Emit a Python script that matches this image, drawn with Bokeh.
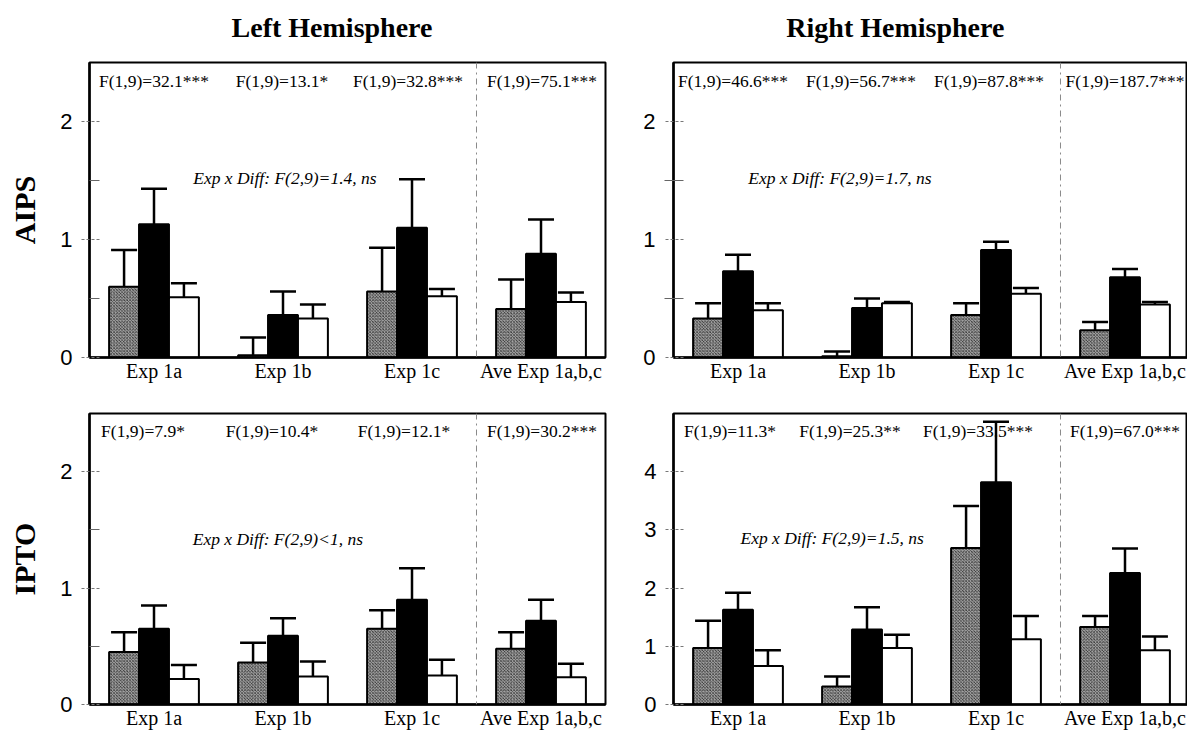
import numpy as np
from bokeh.plotting import figure
from bokeh.models import (ColumnDataSource, Range1d, FixedTicker, Whisker, TeeHead,
                          Span, Label)
from bokeh.layouts import column, row
from bokeh.embed import file_html
from bokeh.resources import INLINE
from bokeh.core.properties import value

# ---------------- data ----------------
categories = ["Exp 1a", "Exp 1b", "Exp 1c", "Ave Exp 1a,b,c"]
hemispheres = ["Left Hemisphere", "Right Hemisphere"]
regions = ["AIPS", "IPTO"]

# AIPS, left hemisphere
AIPS_L_GRAY = [0.60, 0.02, 0.56, 0.41]
AIPS_L_GRAY_SE = [0.31, 0.15, 0.37, 0.25]
AIPS_L_BLACK = [1.13, 0.36, 1.10, 0.88]
AIPS_L_BLACK_SE = [0.30, 0.20, 0.41, 0.29]
AIPS_L_WHITE = [0.51, 0.33, 0.52, 0.47]
AIPS_L_WHITE_SE = [0.12, 0.12, 0.06, 0.08]

# AIPS, right hemisphere
AIPS_R_GRAY = [0.33, 0.01, 0.36, 0.23]
AIPS_R_GRAY_SE = [0.13, 0.04, 0.10, 0.07]
AIPS_R_BLACK = [0.73, 0.42, 0.91, 0.68]
AIPS_R_BLACK_SE = [0.14, 0.08, 0.07, 0.07]
AIPS_R_WHITE = [0.40, 0.46, 0.54, 0.45]
AIPS_R_WHITE_SE = [0.06, 0.01, 0.05, 0.02]

# IPTO, left hemisphere
IPTO_L_GRAY = [0.45, 0.36, 0.65, 0.48]
IPTO_L_GRAY_SE = [0.17, 0.17, 0.16, 0.14]
IPTO_L_BLACK = [0.65, 0.59, 0.90, 0.72]
IPTO_L_BLACK_SE = [0.20, 0.15, 0.27, 0.18]
IPTO_L_WHITE = [0.22, 0.24, 0.25, 0.235]
IPTO_L_WHITE_SE = [0.12, 0.13, 0.135, 0.115]

# IPTO, right hemisphere
IPTO_R_GRAY = [0.97, 0.31, 2.69, 1.33]
IPTO_R_GRAY_SE = [0.47, 0.17, 0.72, 0.19]
IPTO_R_BLACK = [1.63, 1.29, 3.82, 2.26]
IPTO_R_BLACK_SE = [0.29, 0.38, 1.04, 0.42]
IPTO_R_WHITE = [0.66, 0.97, 1.12, 0.93]
IPTO_R_WHITE_SE = [0.27, 0.23, 0.40, 0.24]

AIPS_L_F = ["F(1,9)=32.1***", "F(1,9)=13.1*", "F(1,9)=32.8***", "F(1,9)=75.1***"]
AIPS_R_F = ["F(1,9)=46.6***", "F(1,9)=56.7***", "F(1,9)=87.8***", "F(1,9)=187.7***"]
IPTO_L_F = ["F(1,9)=7.9*", "F(1,9)=10.4*", "F(1,9)=12.1*", "F(1,9)=30.2***"]
IPTO_R_F = ["F(1,9)=11.3*", "F(1,9)=25.3**", "F(1,9)=33.5***", "F(1,9)=67.0***"]

AIPS_L_INT = "Exp x Diff: F(2,9)=1.4, ns"
AIPS_R_INT = "Exp x Diff: F(2,9)=1.7, ns"
IPTO_L_INT = "Exp x Diff: F(2,9)<1, ns"
IPTO_R_INT = "Exp x Diff: F(2,9)=1.5, ns"

# ---------------- styling / layout ----------------
SERIF = "Liberation Serif"
SANS = "Liberation Sans"
BAR_W = 0.232
OFFSETS = [-BAR_W, 0.0, BAR_W]
STYLES = [
    dict(fill_color="#a4a4a4", hatch_pattern="x", hatch_color="#2a2a2a",
         hatch_scale=3.2, hatch_weight=0.8),
    dict(fill_color="black"),
    dict(fill_color="white"),
]

W_L, W_R = 615, 572
BORD_L = (89, 10)
BORD_R = (58, 0)
X_END_L = 3.5
X_END_R = 3.4845
H_HEAD = 45
H_TOP, H_BOT = 342, 344
TOP_BORD = (17, 30)   # (top, bottom) for upper panels
BOT_BORD = (26, 23)   # (top, bottom) for lower panels

# pixel nudges of the F-test labels (layout only)
NUDGE_TL = [0, -1, -4, 1]
NUDGE_TR = [-5, -6, -7, 0]
NUDGE_BL = [-11, -11, -8, 1]
NUDGE_BR = [-8, -17, -18, 0]


def header(text, tx, width, borders, xend):
    p = figure(width=width, height=H_HEAD, x_range=Range1d(-0.5, xend),
               y_range=Range1d(0, 1), output_backend="svg",
               toolbar_location=None, x_axis_type=None, y_axis_type=None,
               min_border_left=borders[0], min_border_right=borders[1],
               min_border_top=0, min_border_bottom=0)
    p.grid.visible = False
    p.outline_line_color = None
    src = ColumnDataSource(dict(x=[tx], y=[0.4], text=[text]))
    p.text(x="x", y="y", text="text", source=src, text_font=value(SERIF),
           text_font_size="28px", text_font_style="bold", text_align="center",
           text_baseline="middle", text_color="black")
    return p


def panel(series, flabels, nudge, inter_text, inter_x, inter_y, ymax, yticks,
          yminor, width, height, borders, vb, ylabel=None, xend=3.5,
          minor_out=0):
    bl, br = borders
    bt, bb = vb
    p = figure(width=width, height=height, x_range=Range1d(-0.5, xend),
               y_range=Range1d(0, ymax), output_backend="svg",
               toolbar_location=None, min_border_left=bl, min_border_right=br,
               min_border_top=bt, min_border_bottom=bb)
    p.grid.visible = False
    p.outline_line_color = "black"
    p.outline_line_width = 2
    p.outline_line_alpha = 1
    p.background_fill_color = "white"
    p.border_fill_color = "white"

    idx = np.arange(len(categories))
    for k, (m, s) in enumerate(series):
        m = np.array(m, dtype=float)
        s = np.array(s, dtype=float)
        src = ColumnDataSource(dict(x=idx + OFFSETS[k], top=m, upper=m + s))
        p.vbar(x="x", top="top", width=BAR_W, source=src, line_color="black",
               line_width=2, **STYLES[k])
        w = Whisker(base="x", lower="top", upper="upper", source=src,
                    line_color="black", line_width=2.5, lower_head=None,
                    upper_head=TeeHead(size=26, line_width=2.5,
                                       line_color="black"))
        p.add_layout(w)

    p.add_layout(Span(location=2.5, dimension="height", line_color="#8a8a8a",
                      line_dash="dashdot", line_width=1))

    frame_h = height - bt - bb
    fsrc = ColumnDataSource(dict(x=idx, y=[ymax * (1 - 18.0 / frame_h)] * len(idx),
                                 text=flabels, dx=nudge))
    p.text(x="x", y="y", text="text", x_offset="dx", source=fsrc,
           text_font=value(SERIF), text_font_size="17.5px", text_align="center",
           text_baseline="middle", text_color="black")

    p.add_layout(Label(x=inter_x, y=inter_y, text=inter_text, text_font=SERIF,
                       text_font_size="17.5px", text_font_style="italic",
                       text_color="black", text_align="center",
                       text_baseline="middle"))

    xa = p.xaxis[0]
    xa.ticker = FixedTicker(ticks=list(idx))
    xa.major_label_overrides = {int(i): c for i, c in enumerate(categories)}
    xa.major_tick_line_color = None
    xa.minor_tick_line_color = None
    xa.major_tick_out = 0
    xa.major_tick_in = 0
    xa.axis_line_width = 2.5
    xa.major_label_standoff = 2
    xa.major_label_text_font = SERIF
    xa.major_label_text_font_size = "20px"
    xa.major_label_text_color = "black"

    ya = p.yaxis[0]
    ya.ticker = FixedTicker(ticks=yticks, minor_ticks=yminor)
    ya.axis_line_width = 2.5
    ya.major_tick_out = 8
    ya.major_tick_in = 10
    ya.major_tick_line_color = "#777777"
    ya.major_tick_line_dash = "3 2"
    ya.minor_tick_in = 10
    ya.minor_tick_out = minor_out
    ya.minor_tick_line_color = "#666666"
    ya.major_label_standoff = 9
    ya.major_label_text_font = SANS
    ya.major_label_text_font_size = "22px"
    ya.major_label_text_color = "black"
    if ylabel:
        ya.axis_label = ylabel
        ya.axis_label_text_font = SERIF
        ya.axis_label_text_font_style = "bold"
        ya.axis_label_text_font_size = "30px"
        ya.axis_label_standoff = 16
        ya.axis_label_text_color = "black"
    return p


hl = header(hemispheres[0], 1.38, W_L, BORD_L, X_END_L)
hr = header(hemispheres[1], 1.22, W_R, BORD_R, X_END_R)

tl = panel([(AIPS_L_GRAY, AIPS_L_GRAY_SE), (AIPS_L_BLACK, AIPS_L_BLACK_SE),
            (AIPS_L_WHITE, AIPS_L_WHITE_SE)], AIPS_L_F, NUDGE_TL, AIPS_L_INT,
           1.015, 1.52, 2.5, [0, 1, 2], [0.5, 1.5], W_L, H_TOP, BORD_L,
           TOP_BORD, ylabel=regions[0], xend=X_END_L)
tr = panel([(AIPS_R_GRAY, AIPS_R_GRAY_SE), (AIPS_R_BLACK, AIPS_R_BLACK_SE),
            (AIPS_R_WHITE, AIPS_R_WHITE_SE)], AIPS_R_F, NUDGE_TR, AIPS_R_INT,
           0.79, 1.52, 2.5, [0, 1, 2], [0.5, 1.5], W_R, H_TOP, BORD_R,
           TOP_BORD, xend=X_END_R, minor_out=9)
bl = panel([(IPTO_L_GRAY, IPTO_L_GRAY_SE), (IPTO_L_BLACK, IPTO_L_BLACK_SE),
            (IPTO_L_WHITE, IPTO_L_WHITE_SE)], IPTO_L_F, NUDGE_BL, IPTO_L_INT,
           0.96, 1.42, 2.5, [0, 1, 2], [0.5, 1.5], W_L, H_BOT, BORD_L,
           BOT_BORD, ylabel=regions[1], xend=X_END_L)
br = panel([(IPTO_R_GRAY, IPTO_R_GRAY_SE), (IPTO_R_BLACK, IPTO_R_BLACK_SE),
            (IPTO_R_WHITE, IPTO_R_WHITE_SE)], IPTO_R_F, NUDGE_BR, IPTO_R_INT,
           0.73, 2.86, 5.0, [0, 1, 2, 3, 4], [], W_R, H_BOT, BORD_R,
           BOT_BORD, xend=X_END_R)

layout = column(row(hl, hr), row(tl, tr), row(bl, br))
open("out.html", "w").write(file_html(layout, INLINE))
